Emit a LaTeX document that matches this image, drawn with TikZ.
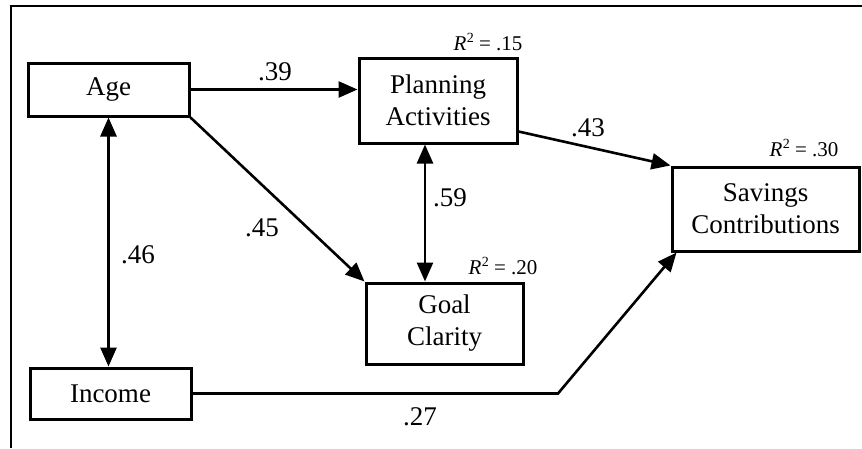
\documentclass[tikz,border=0pt]{standalone}
\usepackage{fontspec}
\setmainfont{Liberation Serif}
\usetikzlibrary{arrows.meta}

\newcommand{\rsqval}[1]{\textit{R}\kern0.5pt\raisebox{0.75ex}{\fontsize{14}{14}\selectfont 2}~= #1}

\begin{document}
\begin{tikzpicture}[x=1pt, y=-1pt, >={Triangle[length=19pt, width=16pt]},
    var/.style={draw, line width=3pt, align=center, inner sep=0pt, font=\fontsize{27}{32}\selectfont},
    link/.style={line width=2.6pt},
    coef/.style={font=\fontsize{27}{30}\selectfont},
    rsq/.style={font=\fontsize{21}{24}\selectfont}]
    \useasboundingbox (0,0) rectangle (862,448);
    \coordinate (corner) at (11,5.5);
    \draw[line width=2pt] (11,448) -- (corner) -- (862,5.5);

    \node[var, minimum width=161pt, minimum height=53pt] (age) at (108.5,89.5) {Age};
    \node[var, minimum width=158pt, minimum height=85pt] (plan) at (438,100.5) {Planning\\Activities};
    \node[var, minimum width=157pt, minimum height=81pt] (goal) at (444.5,323.5) {Goal\\Clarity};
    \node[var, minimum width=161pt, minimum height=51pt] (inc) at (110.5,393.5) {Income};
    \node[var, minimum width=187pt, minimum height=84pt] (sav) at (765.5,209) {Savings\\Contributions};

    \draw[link, ->] (age.east) -- (age.east -| plan.west);
    \draw[link, ->] (age.south east) -- (goal.north west);
    \draw[link, <->] (age.south) -- (age.south |- inc.north);
    \draw[link, <->] ([xshift=-13pt]plan.south) -- ([xshift=-13pt]plan.south |- goal.north);
    \draw[link, ->] ([yshift=13pt]plan.south east) -- (sav.north west);
    \coordinate (kink) at (558,392);
    \draw[link, ->] (inc.east) -- (inc.east -| kink) -- ([xshift=6pt]sav.south west);

    \node[coef] (c39) at (275,72) {.39};
    \node[coef] (c45) at (262,228) {.45};
    \node[coef] (c43) at (588,128) {.43};
    \node[coef] (c46) at (138,255) {.46};
    \node[coef] (c59) at (450,198) {.59};
    \node[coef] (c27) at (420,417) {.27};

    \node[rsq] (r15) at (488,42) {\rsqval{.15}};
    \node[rsq] (r30) at (804,148) {\rsqval{.30}};
    \node[rsq] (r20) at (503,266) {\rsqval{.20}};
\end{tikzpicture}
\end{document}
